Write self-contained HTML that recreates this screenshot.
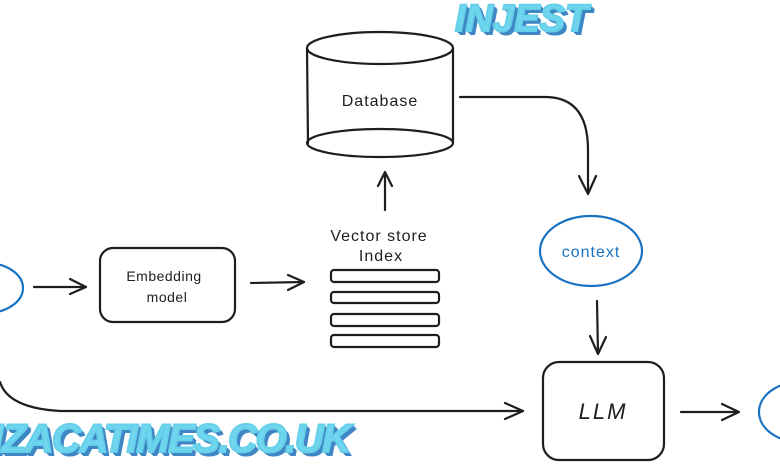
<!DOCTYPE html>
<html><head><meta charset="utf-8"><style>
html,body{margin:0;padding:0;background:#fff;}
body{width:780px;height:470px;overflow:hidden;position:relative;}
svg{position:absolute;left:0;top:0;}
.t{font-family:"Liberation Sans",sans-serif;fill:#1e1e1e;}
.wm{position:absolute;font-family:"Liberation Sans",sans-serif;font-weight:900;font-style:italic;color:#6fd6ee;white-space:nowrap;
text-shadow:1px 1px 0 #3f86c4,2px 2px 0 #3f86c4,3px 3px 0 #3f86c4,4px 4px 0 #3f86c4;-webkit-text-stroke:2px #66d0ea;}
</style></head><body>
<svg width="780" height="470" viewBox="0 0 780 470" xmlns="http://www.w3.org/2000/svg">
<g fill="none" stroke="#1e1e1e" stroke-width="2.2" stroke-linecap="round" stroke-linejoin="round">
<!-- Database cylinder -->
<ellipse cx="380" cy="48" rx="73" ry="16"/>
<line x1="307" y1="48" x2="308" y2="143"/>
<line x1="453" y1="48" x2="453" y2="143"/>
<ellipse cx="380" cy="143" rx="73" ry="14"/>
<!-- DB -> context arrow -->
<path d="M460 97 L545 97 Q588 97 588 150 L588 193"/>
<path d="M579 176 L588 194 L596 176"/>
<!-- up arrow -->
<line x1="385" y1="210" x2="385" y2="173"/>
<path d="M378 186 L385 172 L392 186"/>
<!-- Embedding box -->
<rect x="100" y="248" width="135" height="74" rx="13"/>
<!-- arrows -->
<line x1="34" y1="287" x2="86" y2="287"/>
<path d="M70 279 L86 287 L70 294"/>
<line x1="251" y1="283" x2="304" y2="282"/>
<path d="M288 275 L304 282 L288 290"/>
<!-- vector bars -->
<rect x="331" y="270" width="108" height="12" rx="3"/>
<rect x="331" y="292" width="108" height="11" rx="3"/>
<rect x="331" y="314" width="108" height="12" rx="3"/>
<rect x="331" y="335" width="108" height="12" rx="3"/>
<!-- context -> LLM -->
<line x1="597" y1="301" x2="598" y2="353"/>
<path d="M590 336 L598 354 L606 337"/>
<!-- LLM box -->
<rect x="543" y="362" width="121" height="98" rx="16"/>
<!-- LLM -> right -->
<line x1="681" y1="412" x2="738" y2="412"/>
<path d="M722 404 L739 412 L722 420"/>
<!-- left curve -> LLM -->
<path d="M0 382 Q8 408 60 411 L523 411"/>
<path d="M505 403 L523 411 L505 419"/>
</g>
<g fill="none" stroke="#1971c2" stroke-width="2.2">
<ellipse cx="-14" cy="288" rx="37" ry="25"/>
<ellipse cx="591" cy="251" rx="51" ry="35"/>
<ellipse cx="800" cy="412" rx="41" ry="30"/>
</g>
<text class="t" x="380" y="106" font-size="16" text-anchor="middle" letter-spacing="1">Database</text>
<text class="t" x="164" y="281" font-size="14" text-anchor="middle" letter-spacing="0.5">Embedding</text>
<text class="t" x="167" y="302" font-size="14" text-anchor="middle" letter-spacing="0.5">model</text>
<text class="t" x="379" y="241" font-size="16" text-anchor="middle" letter-spacing="1">Vector store</text>
<text class="t" x="381" y="261" font-size="16" text-anchor="middle" letter-spacing="1">Index</text>
<text class="t" x="591" y="257" font-size="16" text-anchor="middle" letter-spacing="1" style="fill:#1971c2">context</text>
<text class="t" x="603" y="419" font-size="22" text-anchor="middle" font-style="italic" letter-spacing="2">LLM</text>
</svg>
<div class="wm" style="left:455px;top:-2px;font-size:38px;letter-spacing:0px;">INJEST</div>
<div class="wm" style="left:-8px;top:417px;font-size:40px;letter-spacing:-1.5px;">IZACATIMES.CO.UK</div>
</body></html>
